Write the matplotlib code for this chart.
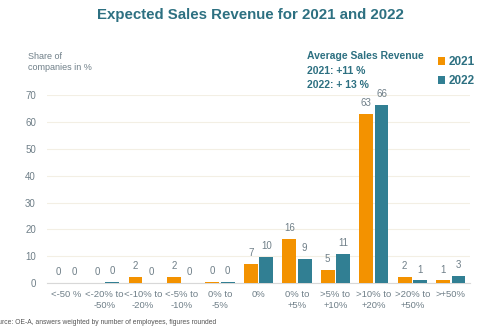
import matplotlib

matplotlib.use("Agg")
import matplotlib.pyplot as plt
import numpy as np

plt.rcParams["font.family"] = ["Liberation Sans", "DejaVu Sans"]

categories = [
    "<-50 %", "<-20% to\n-50%", "<-10% to\n-20%", "<-5% to\n-10%", "0% to\n-5%",
    "0%", "0% to\n+5%", ">5% to\n+10%", ">10% to\n+20%", ">20% to\n+50%", ">+50%",
]
values_2021 = [0.0, 0.0, 2.2, 2.3, 0.4, 7.2, 16.4, 5.0, 62.8, 2.3, 1.0]
values_2022 = [0.0, 0.4, 0.0, 0.0, 0.6, 9.6, 9.0, 10.7, 66.2, 1.0, 2.7]
labels_2021 = ["0", "0", "2", "2", "0", "7", "16", "5", "63", "2", "1"]
labels_2022 = ["0", "0", "0", "0", "0", "10", "9", "11", "66", "1", "3"]

ORANGE = "#f39200"
TEAL = "#317f93"
TITLE = "#2d7081"
GRAY = "#6f7f88"

fig = plt.figure(figsize=(5, 3.3), dpi=100)
ax = fig.add_axes([0.094, 0.142, 0.846, 0.570])

x = np.arange(len(categories))
w = 0.36
ax.bar(x - 0.2, values_2021, w, color=ORANGE, label="2021", zorder=3)
ax.bar(x + 0.2, values_2022, w, color=TEAL, label="2022", zorder=3)

for xi, v, t in zip(x, values_2021, labels_2021):
    ax.text(xi - 0.2, v + 2.2, t, ha="center", va="bottom", fontsize=7, color=GRAY)
for xi, v, t in zip(x, values_2022, labels_2022):
    ax.text(xi + 0.2, v + 2.2, t, ha="center", va="bottom", fontsize=7, color=GRAY)

ax.set_xlim(-0.5, len(categories) - 0.5)
ax.set_ylim(0, 70)
ax.set_yticks(range(0, 71, 10))
ax.set_xticks(x)
ax.set_xticklabels(categories, fontsize=6.8, color=GRAY, linespacing=1.3)
ax.tick_params(axis="y", labelsize=7, colors=GRAY, length=0, pad=8)
ax.tick_params(axis="x", length=0, pad=5)
ax.grid(axis="y", color="#f3efe4", linewidth=0.8, zorder=0)
for name, spine in ax.spines.items():
    spine.set_visible(name == "bottom")
ax.spines["bottom"].set_color("#d8d8d8")

fig.text(0.5, 0.955, "Expected Sales Revenue for 2021 and 2022", ha="center", va="center",
         fontsize=10.8, fontweight="bold", color=TITLE)
fig.text(0.056, 0.812, "Share of\ncompanies in %", ha="left", va="center",
         fontsize=6.5, color=GRAY, linespacing=1.2)
fig.text(0.614, 0.786, "Average Sales Revenue\n2021: +11 %\n2022: + 13 %", ha="left", va="center",
         fontsize=7.5, fontweight="bold", color=TITLE, linespacing=1.6)
fig.text(-0.019, 0.024, "Source: OE-A, answers weighted by number of employees, figures rounded",
         ha="left", va="center", fontsize=4.9, color="#555555")

ax.legend(loc="center left", bbox_to_anchor=(0.925, 1.125), frameon=False,
          borderpad=0, borderaxespad=0,
          handlelength=0.6, handleheight=0.6, handletextpad=0.3, labelspacing=0.6,
          prop={"weight": "bold", "size": 8.5}, labelcolor=TITLE)

fig.savefig("out.png", dpi=100)
